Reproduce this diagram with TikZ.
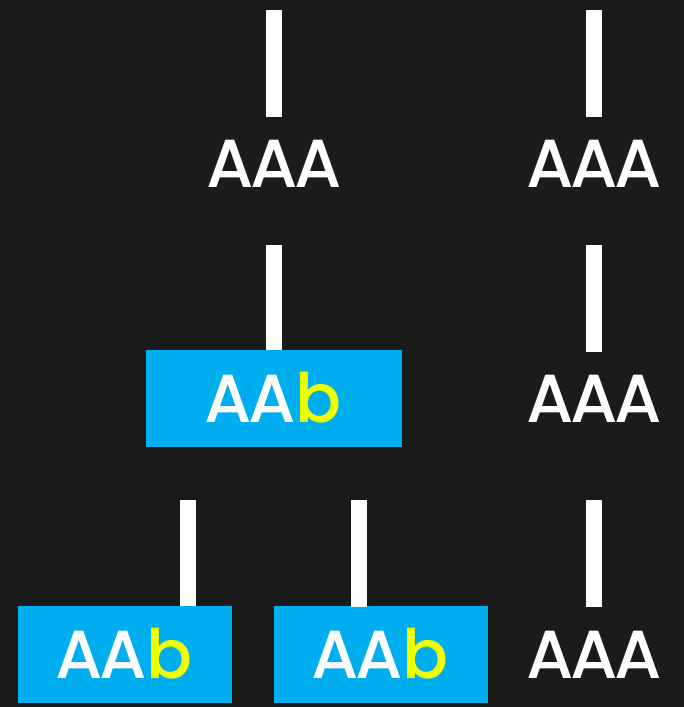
\documentclass[tikz,border=0pt]{standalone}
\usepackage{fontspec}
\setmainfont{Poppins}[BoldFont=Poppins Medium,BoldFeatures={LetterSpace=-5}]
\definecolor{bg}{HTML}{1B1B1B}
\definecolor{boxblue}{HTML}{00AEEF}
\definecolor{lemon}{HTML}{F0FF00}
\begin{document}
\begin{tikzpicture}[x=1pt,y=-1pt,
  lbl/.style={text=white,font=\fontsize{68}{68}\selectfont\bfseries,inner sep=0pt,anchor=base},
  hbox/.style={fill=boxblue,minimum width=214pt,minimum height=97pt,inner sep=0pt},
  bar/.style={white,line width=16pt}]
\fill[bg] (0,0) rectangle (684,707);
\useasboundingbox (0,0) rectangle (684,707);
% boxes
\node[hbox,minimum width=256pt] (b1) at (274,398.5) {};
\node[hbox] (b2) at (125,654.5) {};
\node[hbox] (b3) at (381,654.5) {};
% texts
\node[lbl] (t1) at (274,187) {AAA};
\node[lbl] (t2) at (594,187) {AAA};
\node[lbl] (t3) at (273,422) {AA\textcolor{lemon}{b}};
\node[lbl] (t4) at (594,422) {AAA};
\node[lbl] (t5) at (124,678) {AA\textcolor{lemon}{b}};
\node[lbl] (t6) at (380,678) {AA\textcolor{lemon}{b}};
\node[lbl] (t7) at (594,678) {AAA};
% bar end coordinates
\coordinate (c1a) at (274,10); \coordinate (c1b) at (274,117);
\coordinate (c2a) at (594,10); \coordinate (c2b) at (594,117);
\coordinate (c3a) at (274,245); \coordinate (c3b) at (274,350);
\coordinate (c4a) at (594,245); \coordinate (c4b) at (594,352);
\coordinate (c5a) at (188,500); \coordinate (c5b) at (188,606);
\coordinate (c6a) at (359,500); \coordinate (c6b) at (359,607);
\coordinate (c7a) at (594,500); \coordinate (c7b) at (594,607);
\draw[bar] (c1a) -- (c1b);
\draw[bar] (c2a) -- (c2b);
\draw[bar] (c3a) -- (c3b);
\draw[bar] (c4a) -- (c4b);
\draw[bar] (c5a) -- (c5b);
\draw[bar] (c6a) -- (c6b);
\draw[bar] (c7a) -- (c7b);
\end{tikzpicture}
\end{document}
